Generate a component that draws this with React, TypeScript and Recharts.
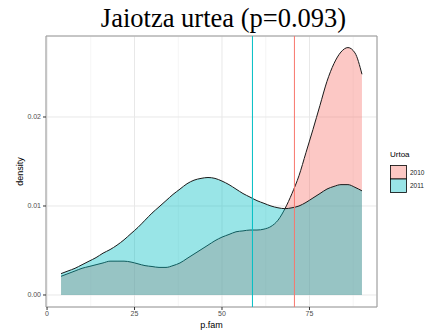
import React from 'react';
import {
  ComposedChart,
  Area,
  XAxis,
  YAxis,
  CartesianGrid,
  ReferenceLine,
  ReferenceArea,
} from 'recharts';

// density estimates of p.fam per birth year
const pFam = [
  4, 6, 8, 10, 12, 14, 16, 18, 20, 22, 24, 26, 28, 30, 32, 34, 36, 38, 40, 42, 44, 46,
  48, 50, 52, 54, 56, 58, 60, 62, 64, 66, 68, 70, 72, 74, 76, 78, 80, 82, 84, 86, 88, 90,
];
const dens2010 = [
  0.0021, 0.0024, 0.0027, 0.003, 0.0032, 0.0034, 0.0036, 0.0038, 0.0038, 0.0038, 0.0037,
  0.0035, 0.0033, 0.0032, 0.0031, 0.0031, 0.0033, 0.0036, 0.0041, 0.0046, 0.0051, 0.0056,
  0.0061, 0.0065, 0.0068, 0.0071, 0.0072, 0.0073, 0.0073, 0.0074, 0.0077, 0.0084, 0.0097,
  0.0114, 0.0134, 0.016, 0.0186, 0.0213, 0.024, 0.026, 0.0273, 0.0278, 0.0272, 0.0248,
];
const dens2011 = [
  0.0024, 0.0027, 0.003, 0.0034, 0.0038, 0.0042, 0.0047, 0.0051, 0.0056, 0.0062, 0.0069,
  0.0076, 0.0084, 0.0092, 0.0099, 0.0106, 0.0113, 0.0119, 0.0125, 0.0129, 0.0131, 0.0132,
  0.0131, 0.0128, 0.0124, 0.0119, 0.0114, 0.011, 0.0106, 0.0103, 0.01, 0.0098, 0.0097,
  0.0098, 0.01, 0.0104, 0.0109, 0.0114, 0.0119, 0.0122, 0.0124, 0.0124, 0.0121, 0.0117,
];
const years = ['2010', '2011'];
const yearColors = ['#F8766D', '#00BFC4'];
const yearKeyFills = ['#FCC8C4', '#99E5E7'];
// group means drawn as vertical lines
const means = [70.7, 58.7];

const xTicks = [0, 25, 50, 75];
const xMinor = [12.5, 37.5, 62.5, 87.5];
const yTicks = [0, 0.01, 0.02];
const yMinor = [0.005, 0.015, 0.025];
const xDomain = [-0.3, 94.3];
const yDomain = [-0.00135, 0.0291];

const data = pFam.map((x, i) => ({ x, d2010: dens2010[i], d2011: dens2011[i] }));

const sans = '"Liberation Sans", Arial, sans-serif';
const serif = '"Liberation Serif", "Times New Roman", serif';

// title, axis titles and the fill legend, laid over the plot
function Annotations() {
  return (
    <svg
      width={428}
      height={333}
      style={{ position: 'absolute', left: 0, top: 0, pointerEvents: 'none' }}
    >
      <text x={223.5} y={27} textAnchor="middle" fontSize={26.5} fontFamily={serif} fill="#000">
        Jaiotza urtea (p=0.093)
      </text>
      <text x={211.5} y={328} textAnchor="middle" fontSize={9} fontFamily={sans} fill="#000">
        p.fam
      </text>
      <text
        x={23}
        y={171.5}
        textAnchor="middle"
        fontSize={9}
        fontFamily={sans}
        fill="#000"
        transform="rotate(-90 23 171.5)"
      >
        density
      </text>
      <g transform="translate(386,147)">
        <text x={4} y={10} fontSize={8} fontFamily={sans} fill="#000">
          Urtoa
        </text>
        {years.map((yr, i) => (
          <g key={yr}>
            <rect
              x={4.5}
              y={18.5 + i * 13.5}
              width={16}
              height={13.5}
              fill={yearKeyFills[i]}
              stroke="#000"
              strokeWidth={0.8}
            />
            <text x={24} y={27.5 + i * 13.5} fontSize={6.5} fontFamily={sans} fill="#222">
              {yr}
            </text>
          </g>
        ))}
      </g>
    </svg>
  );
}

export default function App() {
  return (
    <div style={{ position: 'relative', width: 428, height: 333, background: '#fff' }}>
      <style>{'body { margin: 0; }'}</style>
      <ComposedChart
        width={428}
        height={333}
        data={data}
        margin={{ top: 36, right: 51, bottom: 0, left: 0 }}
      >
        <XAxis xAxisId="minor" type="number" dataKey="x" domain={xDomain} ticks={xMinor} hide />
        <YAxis yAxisId="minor" type="number" domain={yDomain} ticks={yMinor} hide />
        <CartesianGrid xAxisId="minor" yAxisId="minor" stroke="#F2F2F2" strokeWidth={0.8} />
        <CartesianGrid stroke="#E8E8E8" strokeWidth={1} />
        <XAxis
          type="number"
          dataKey="x"
          domain={xDomain}
          ticks={xTicks}
          allowDataOverflow
          height={26}
          axisLine={false}
          tickSize={3}
          tickMargin={1}
          tickLine={{ stroke: '#333' }}
          tick={{ fill: '#4D4D4D', fontSize: 7, fontFamily: sans }}
        />
        <YAxis
          type="number"
          domain={yDomain}
          ticks={yTicks}
          allowDataOverflow
          width={46}
          axisLine={false}
          tickSize={3}
          tickMargin={2}
          tickLine={{ stroke: '#333' }}
          tick={{ fill: '#4D4D4D', fontSize: 7, fontFamily: sans }}
          tickFormatter={(v: number) => v.toFixed(2)}
        />
        <Area
          type="monotone"
          dataKey="d2010"
          name={years[0]}
          baseValue={0}
          fill={yearColors[0]}
          fillOpacity={0.4}
          stroke="#1a1a1a"
          strokeWidth={1}
          isAnimationActive={false}
        />
        <Area
          type="monotone"
          dataKey="d2011"
          name={years[1]}
          baseValue={0}
          fill={yearColors[1]}
          fillOpacity={0.4}
          stroke="#1a1a1a"
          strokeWidth={1}
          isAnimationActive={false}
        />
        {means.map((m, i) => (
          <ReferenceLine key={years[i]} x={m} stroke={yearColors[i]} strokeWidth={1} />
        ))}
        <ReferenceArea
          x1={xDomain[0]}
          x2={xDomain[1]}
          y1={yDomain[0]}
          y2={yDomain[1]}
          fill="none"
          stroke="#9A9A9A"
          strokeWidth={1}
        />
      </ComposedChart>
      <Annotations />
    </div>
  );
}
